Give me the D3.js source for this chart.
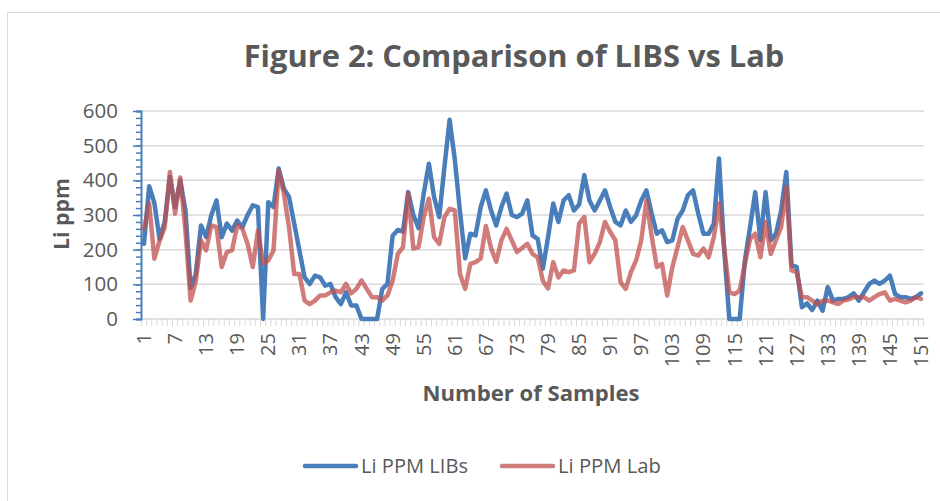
<!DOCTYPE html>
<html>
<head>
<meta charset="utf-8">
<script src="https://cdn.jsdelivr.net/npm/d3@7"></script>
<style>
  body { margin: 0; background: #fff; }
  text { font-family: 'Open Sans', 'Noto Sans', sans-serif; }
</style>
</head>
<body>
<div class="viz"></div>
<script>
// sample numbers 1..151
const samples = d3.range(1, 152)
const xTickLabels = d3.range(1, 152, 6)
const yTickValues = [0, 100, 200, 300, 400, 500, 600]

// Li ppm
const libsPpm = [
  217, 383, 335, 231, 280, 410, 323, 400, 313, 90,
  130, 270, 236, 300, 342, 236, 275, 255, 284, 265,
  300, 328, 323, 0, 337, 323, 434, 376, 352, 275,
  198, 120, 101, 125, 120, 96, 101, 63, 43, 77,
  39, 39, 0, 0, 0, 0, 87, 101, 240, 257,
  252, 366, 300, 262, 362, 448, 352, 294, 439, 575,
  460, 310, 175, 246, 241, 323, 371, 313, 270, 323,
  362, 300, 294, 304, 342, 241, 231, 145, 236, 333,
  280, 342, 357, 313, 330, 415, 342, 313, 342, 371,
  323, 280, 270, 313, 280, 299, 342, 371, 304, 246,
  256, 222, 227, 289, 313, 357, 371, 304, 246, 246,
  275, 463, 200, 0, 0, 0, 169, 265, 366, 227,
  366, 227, 246, 313, 424, 155, 150, 34, 45, 26,
  53, 24, 92, 53, 58, 58, 63, 74, 53, 77,
  101, 111, 101, 111, 125, 72, 63, 63, 58, 63,
  74
]
const labPpm = [
  260, 333, 174, 225, 265, 424, 304, 408, 255, 53,
  110, 227, 198, 270, 265, 150, 193, 198, 270, 260,
  217, 150, 255, 160, 169, 198, 429, 362, 265, 130,
  130, 53, 43, 53, 68, 68, 77, 82, 77, 101,
  74, 87, 111, 87, 63, 63, 53, 68, 110, 188,
  207, 362, 203, 207, 294, 347, 236, 217, 294, 318,
  313, 130, 87, 159, 164, 175, 268, 205, 165, 227,
  260, 227, 193, 205, 217, 188, 178, 110, 88, 164,
  120, 140, 135, 140, 275, 294, 164, 188, 222, 280,
  251, 227, 106, 87, 135, 169, 227, 342, 240, 150,
  159, 68, 150, 207, 265, 227, 188, 183, 203, 178,
  236, 333, 207, 77, 72, 82, 159, 231, 246, 178,
  280, 188, 227, 265, 381, 140, 135, 63, 63, 53,
  43, 53, 53, 48, 43, 53, 56, 63, 63, 63,
  53, 63, 72, 77, 53, 58, 53, 48, 53, 63,
  58
]

const seriesNames = ['Li PPM LIBs', 'Li PPM Lab']
const seriesColors = ['#4a7ebb', '#c0504d']
const seriesOpacity = [1, 0.75]

const W = 940, H = 501
const textGrey = '#595959'

const svg = d3.select('.viz').append('svg')
  .attr('width', W)
  .attr('height', H)

// chart frame
svg.append('rect')
  .attr('x', 7.5).attr('y', 12.5)
  .attr('width', W).attr('height', H)
  .attr('fill', '#fff')
  .attr('stroke', '#d9d9d9')

const x = d3.scaleBand().domain(samples).range([141.4, 923.6]).padding(0)
const xc = d => x(d) + x.bandwidth() / 2
const y = d3.scaleLinear().domain([0, 600]).range([319, 111])

// gridlines
svg.append('g')
  .selectAll('line')
  .data(yTickValues.slice(1)).enter().append('line')
  .attr('x1', 141).attr('x2', 924)
  .attr('y1', d => y(d)).attr('y2', d => y(d))
  .attr('stroke', '#d9d9d9')
  .attr('stroke-width', 1.5)

// x axis: gray line, tick at every category boundary
const xAxis = svg.append('g')
xAxis.append('line')
  .attr('x1', 141).attr('x2', 924)
  .attr('y1', y(0)).attr('y2', y(0))
  .attr('stroke', '#d9d9d9').attr('stroke-width', 1.5)
xAxis.selectAll('.tk')
  .data(samples.concat([152])).enter().append('line')
  .attr('x1', d => d === 152 ? 923.6 : x(d)).attr('x2', d => d === 152 ? 923.6 : x(d))
  .attr('y1', y(0)).attr('y2', y(0) + 7)
  .attr('stroke', '#d9d9d9')
xAxis.selectAll('text')
  .data(xTickLabels).enter().append('text')
  .attr('transform', d => `translate(${xc(d)},333)rotate(-90)`)
  .attr('text-anchor', 'end')
  .attr('dy', '0.35em')
  .attr('font-size', 20)
  .attr('fill', textGrey)
  .text(d => d)

// y axis, blue with minor ticks
const yAxis = svg.append('g').attr('transform', 'translate(141,0)')
yAxis.call(d3.axisLeft(y).tickValues(d3.range(0, 601, 20)).tickSize(5).tickFormat(''))
yAxis.call(g => g.selectAll('.tick line').attr('stroke', '#4a7ebb').attr('stroke-width', 1.5))
yAxis.call(g => g.select('.domain').attr('stroke', '#4a7ebb').attr('stroke-width', 2))
const yMajor = svg.append('g').attr('transform', 'translate(141,0)')
yMajor.call(d3.axisLeft(y).tickValues(yTickValues).tickSize(8).tickPadding(15))
yMajor.select('.domain').remove()
yMajor.selectAll('.tick line').attr('stroke', '#4a7ebb').attr('stroke-width', 1.5)
yMajor.selectAll('.tick text')
  .attr('font-size', 20.5)
  .attr('font-family', "'Open Sans', sans-serif")
  .attr('fill', textGrey)

// lines
const line = d3.line().x((d, i) => xc(samples[i])).y(d => y(d))
const allSeries = [libsPpm, labPpm]
svg.append('g')
  .selectAll('path')
  .data(allSeries).enter().append('path')
  .attr('d', d => line(d))
  .attr('fill', 'none')
  .attr('stroke', (d, i) => seriesColors[i])
  .attr('stroke-opacity', (d, i) => seriesOpacity[i])
  .attr('stroke-width', 4.5)
  .attr('stroke-linejoin', 'round')
  .attr('stroke-linecap', 'round')

// fit a text to a measured width
function fitWidth(sel, w) {
  const len = sel.node().getComputedTextLength()
  const fs = parseFloat(sel.attr('font-size'))
  sel.attr('font-size', fs * w / len)
}

// titles
svg.append('text')
  .attr('x', 514).attr('y', 67)
  .attr('text-anchor', 'middle')
  .attr('font-size', 28).attr('font-weight', 'bold')
  .attr('fill', textGrey)
  .text('Figure 2: Comparison of LIBS vs Lab')
  .call(s => fitWidth(s, 541))

svg.append('text')
  .attr('transform', 'translate(69,214)rotate(-90)')
  .attr('text-anchor', 'middle')
  .attr('font-size', 20).attr('font-weight', 'bold')
  .attr('fill', textGrey)
  .text('Li ppm')
  .call(s => fitWidth(s, 72))

svg.append('text')
  .attr('x', 531).attr('y', 401)
  .attr('text-anchor', 'middle')
  .attr('font-size', 20).attr('font-weight', 'bold')
  .attr('fill', textGrey)
  .text('Number of Samples')
  .call(s => fitWidth(s, 217))

// legend
const legendX = [303, 500]
const legendTextW = [107, 103]
const legend = svg.append('g')
  .selectAll('g')
  .data(seriesNames).enter().append('g')
  .attr('transform', (d, i) => `translate(${legendX[i]},466)`)
legend.append('line')
  .attr('x1', 2).attr('x2', 53)
  .attr('stroke', (d, i) => seriesColors[i])
  .attr('stroke-opacity', (d, i) => seriesOpacity[i])
  .attr('stroke-width', 4.5)
  .attr('stroke-linecap', 'round')
legend.append('text')
  .attr('x', 58).attr('dy', '0.35em')
  .attr('font-size', 18)
  .attr('fill', textGrey)
  .text(d => d)
  .each(function(d, i) { fitWidth(d3.select(this), legendTextW[i]) })
</script>
</body>
</html>
